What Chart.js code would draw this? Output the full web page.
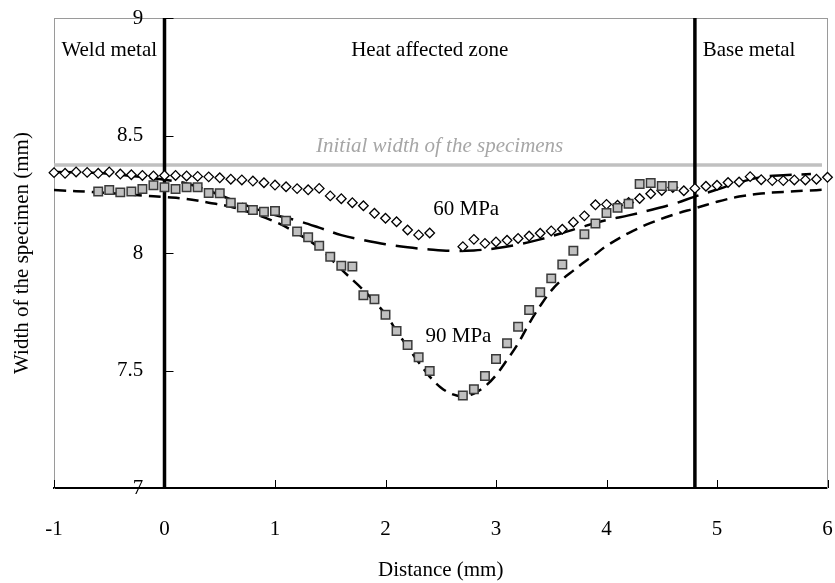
<!DOCTYPE html>
<html>
<head>
<meta charset="utf-8">
<script src="https://cdn.jsdelivr.net/npm/chart.js@4.4.1/dist/chart.umd.min.js"></script>
<style>
  html, body { margin: 0; padding: 0; background: #fff; }
  #wrap { width: 835px; height: 583px; }
</style>
</head>
<body>
<div id="wrap"><canvas id="widthChart" width="835" height="583"></canvas></div>
<script>
// mesures 60 MPa (losanges)
const dist60 = [-1.0, -0.9, -0.8, -0.7, -0.6, -0.5, -0.4, -0.3, -0.2, -0.1,
    0.0, 0.1, 0.2, 0.3, 0.4, 0.5, 0.6, 0.7, 0.8, 0.9,
    1.0, 1.1, 1.2, 1.3, 1.4, 1.5, 1.6, 1.7, 1.8, 1.9,
    2.0, 2.1, 2.2, 2.3, 2.4,
    2.7, 2.8, 2.9, 3.0, 3.1, 3.2, 3.3, 3.4, 3.5, 3.6, 3.7, 3.8, 3.9,
    4.0, 4.1, 4.2, 4.3, 4.4, 4.5, 4.6, 4.7, 4.8, 4.9,
    5.0, 5.1, 5.2, 5.3, 5.4, 5.5, 5.6, 5.7, 5.8, 5.9, 6.0];
const width60 = [8.342, 8.339, 8.345, 8.343, 8.339, 8.345, 8.336, 8.333, 8.330, 8.328,
    8.330, 8.330, 8.328, 8.326, 8.324, 8.320, 8.314, 8.311, 8.306, 8.299,
    8.289, 8.282, 8.274, 8.269, 8.275, 8.243, 8.231, 8.214, 8.201, 8.169,
    8.148, 8.133, 8.098, 8.077, 8.085,
    8.027, 8.058, 8.041, 8.047, 8.054, 8.062, 8.072, 8.084, 8.094, 8.101, 8.131, 8.158, 8.205,
    8.207, 8.203, 8.215, 8.232, 8.252, 8.266, 8.279, 8.265, 8.275, 8.284,
    8.288, 8.300, 8.302, 8.325, 8.312, 8.308, 8.308, 8.311, 8.311, 8.314, 8.322];

// mesures 90 MPa (carres gris)
const dist90 = [-0.6, -0.5, -0.4, -0.3, -0.2, -0.1,
    0.0, 0.1, 0.2, 0.3, 0.4, 0.5, 0.6, 0.7, 0.8, 0.9,
    1.0, 1.1, 1.2, 1.3, 1.4, 1.5, 1.6, 1.7, 1.8, 1.9,
    2.0, 2.1, 2.2, 2.3, 2.4,
    2.7, 2.8, 2.9, 3.0, 3.1, 3.2, 3.3, 3.4, 3.5, 3.6, 3.7, 3.8, 3.9,
    4.0, 4.1, 4.2, 4.3, 4.4, 4.5, 4.6];
const width90 = [8.262, 8.268, 8.258, 8.262, 8.272, 8.288,
    8.280, 8.272, 8.280, 8.280, 8.255, 8.254, 8.214, 8.194, 8.183, 8.176,
    8.179, 8.137, 8.091, 8.067, 8.031, 7.984, 7.946, 7.943, 7.820, 7.803,
    7.737, 7.668, 7.609, 7.556, 7.498,
    7.394, 7.420, 7.477, 7.549, 7.616, 7.686, 7.757, 7.833, 7.892, 7.951, 8.010, 8.080, 8.126,
    8.170, 8.192, 8.210, 8.294, 8.298, 8.285, 8.285];

// courbe calculee 60 MPa (tirets longs)
const modelDist60 = [-1.0, -0.6, -0.3, 0.0, 0.2, 0.4, 0.6, 0.8, 1.0, 1.2, 1.4, 1.6, 1.8,
    2.0, 2.2, 2.4, 2.6, 2.8, 3.0, 3.2, 3.4, 3.6, 3.8, 4.0, 4.2, 4.4, 4.6, 4.8,
    5.0, 5.2, 5.4, 5.6, 5.85];
const modelWidth60 = [8.345, 8.340, 8.328, 8.312, 8.296, 8.265, 8.228, 8.192, 8.162, 8.138, 8.108, 8.076, 8.055,
    8.037, 8.024, 8.015, 8.009, 8.011, 8.020, 8.036, 8.058, 8.085, 8.114, 8.140, 8.160, 8.183, 8.208, 8.240,
    8.270, 8.300, 8.323, 8.331, 8.336];

// courbe calculee 90 MPa (tirets courts)
const modelDist90 = [-1.0, -0.6, -0.2, 0.0, 0.2, 0.4, 0.6, 0.8, 1.0, 1.2, 1.4, 1.6, 1.8,
    2.0, 2.1, 2.2, 2.3, 2.4, 2.5, 2.6, 2.7, 2.8, 2.9, 3.0, 3.1, 3.2, 3.3, 3.4, 3.5,
    3.6, 3.7, 3.8, 3.9, 4.0, 4.2, 4.4, 4.6, 4.8, 5.0, 5.2, 5.4, 5.6, 5.8, 6.0];
const modelWidth90 = [8.268, 8.258, 8.245, 8.238, 8.230, 8.214, 8.197, 8.168, 8.133, 8.084, 8.022, 7.930, 7.842,
    7.740, 7.668, 7.600, 7.535, 7.474, 7.428, 7.400, 7.390, 7.402, 7.432, 7.480, 7.545, 7.615, 7.700, 7.775, 7.840,
    7.888, 7.925, 7.962, 7.995, 8.030, 8.085, 8.128, 8.162, 8.190, 8.218, 8.240, 8.253, 8.260, 8.265, 8.270];

// largeur initiale et limites des zones
const initialWidth = 8.375;
const initialSpan = [-1, 5.95];
const zoneBounds = [0, 4.8];
const yRange = [7, 9];
const xRange = [-1, 6];

// textes dans le graphique (coordonnees en unites des axes)
const notes = [
    { text: 'Weld metal', x: -0.5, y: 8.838 },
    { text: 'Heat affected zone', x: 2.4, y: 8.838 },
    { text: 'Base metal', x: 5.29, y: 8.838 },
    { text: 'Initial width of the specimens', x: 2.49, y: 8.43, italic: true, color: '#a6a6a6' },
    { text: '60 MPa', x: 2.73, y: 8.162 },
    { text: '90 MPa', x: 2.66, y: 7.621 }
];

const toPoints = (xs, ys) => xs.map((x, i) => ({ x: x, y: ys[i] }));
const FONT = "'Liberation Serif', 'Times New Roman', serif";

Chart.defaults.font.family = FONT;
Chart.defaults.font.size = 21;
Chart.defaults.color = '#000';

// petites graduations tournees vers l'interieur
const innerTicks = {
    id: 'innerTicks',
    beforeDatasetsDraw(chart) {
        const { ctx, scales } = chart;
        const xs = scales.x, ys = scales.y;
        const x0 = xs.getPixelForValue(0);
        const yb = ys.getPixelForValue(yRange[0]);
        ctx.save();
        ctx.strokeStyle = '#000';
        ctx.lineWidth = 1;
        ctx.beginPath();
        ys.ticks.forEach(t => {
            const py = Math.round(ys.getPixelForValue(t.value)) + 0.5;
            ctx.moveTo(x0, py);
            ctx.lineTo(x0 + 9, py);
        });
        xs.ticks.forEach(t => {
            const px = Math.round(xs.getPixelForValue(t.value)) + 0.5;
            ctx.moveTo(px, yb);
            ctx.lineTo(px, yb - 8);
        });
        ctx.stroke();
        ctx.restore();
    }
};

const textNotes = {
    id: 'textNotes',
    afterDatasetsDraw(chart) {
        const { ctx, scales } = chart;
        ctx.save();
        ctx.textAlign = 'center';
        ctx.textBaseline = 'alphabetic';
        notes.forEach(n => {
            ctx.font = (n.italic ? 'italic ' : '') + '21px ' + FONT;
            ctx.fillStyle = n.color || '#000';
            ctx.fillText(n.text, scales.x.getPixelForValue(n.x), scales.y.getPixelForValue(n.y));
        });
        ctx.restore();
    }
};

const lineSet = (data, extra) => Object.assign({
    data: data,
    showLine: true,
    pointRadius: 0,
    fill: false,
    borderColor: '#000',
    borderWidth: 2.5,
    tension: 0
}, extra);

// grille invisible : sert seulement a reserver la place des graduations
const hiddenGrid = { display: true, drawOnChartArea: false, drawTicks: true, tickColor: 'rgba(0,0,0,0)' };

new Chart(document.getElementById('widthChart'), {
    type: 'scatter',
    data: {
        datasets: [
            {
                label: '90 MPa',
                data: toPoints(dist90, width90),
                pointStyle: 'rect',
                pointRadius: 6,
                backgroundColor: '#c0c0c0',
                borderColor: '#3a3a3a',
                borderWidth: 1.5,
                clip: false,
                order: 0
            },
            {
                label: '60 MPa',
                data: toPoints(dist60, width60),
                pointStyle: 'rectRot',
                pointRadius: 4.8,
                backgroundColor: '#fff',
                borderColor: '#000',
                borderWidth: 1.3,
                clip: false,
                order: 1
            },
            lineSet(toPoints(modelDist90, modelWidth90), { borderDash: [12, 7], tension: 0.35, order: 2 }),
            lineSet(toPoints(modelDist60, modelWidth60), { borderDash: [22, 10], tension: 0.35, order: 3 }),
            lineSet([{ x: zoneBounds[0], y: yRange[0] }, { x: zoneBounds[0], y: yRange[1] }], { borderWidth: 3.5, order: 4 }),
            lineSet([{ x: zoneBounds[1], y: yRange[0] }, { x: zoneBounds[1], y: yRange[1] }], { borderWidth: 3.5, order: 4 }),
            lineSet([{ x: initialSpan[0], y: initialWidth }, { x: initialSpan[1], y: initialWidth }], { borderColor: '#c0c0c0', borderWidth: 3.5, order: 5 })
        ]
    },
    options: {
        responsive: false,
        animation: false,
        events: [],
        layout: { padding: { top: 18, right: 6, left: 0, bottom: 0 } },
        plugins: {
            legend: { display: false },
            tooltip: { enabled: false }
        },
        scales: {
            x: {
                type: 'linear',
                position: 'bottom',
                min: xRange[0],
                max: xRange[1],
                ticks: { stepSize: 1, padding: 0, color: '#000' },
                grid: Object.assign({}, hiddenGrid, { tickLength: 29 }),
                border: { display: true, color: '#000', width: 2 },
                title: { display: true, text: 'Distance (mm)', color: '#000', padding: { top: 0, bottom: 0 } },
                afterFit: s => { s.height = 95; }
            },
            xTop: {
                axis: 'x',
                type: 'linear',
                position: 'top',
                min: xRange[0],
                max: xRange[1],
                ticks: { display: false },
                grid: { display: false, drawTicks: false },
                border: { display: true, color: '#9a9a9a', width: 1 },
                afterFit: s => { s.height = 0; }
            },
            y: {
                type: 'linear',
                position: 'left',
                min: yRange[0],
                max: yRange[1],
                ticks: {
                    stepSize: 0.5,
                    mirror: true,
                    crossAlign: 'far',
                    padding: 63,
                    color: '#000',
                    callback: v => String(Number(v))
                },
                grid: { display: false, drawTicks: false },
                border: { display: true, color: '#9a9a9a', width: 1 },
                title: { display: true, text: 'Width of the specimen (mm)', color: '#000', padding: { top: 10, bottom: 0 } },
                afterFit: s => {
                    s.width = 54;
                    // le decalage des etiquettes ne doit pas pousser la zone de trace
                    s.paddingTop = 0;
                    s.paddingBottom = 0;
                }
            },
            yRight: {
                axis: 'y',
                type: 'linear',
                position: 'right',
                min: yRange[0],
                max: yRange[1],
                ticks: { display: false },
                grid: { display: false, drawTicks: false },
                border: { display: true, color: '#9a9a9a', width: 1 },
                afterFit: s => { s.width = 0; }
            }
        }
    },
    plugins: [innerTicks, textNotes]
});
</script>
</body>
</html>
